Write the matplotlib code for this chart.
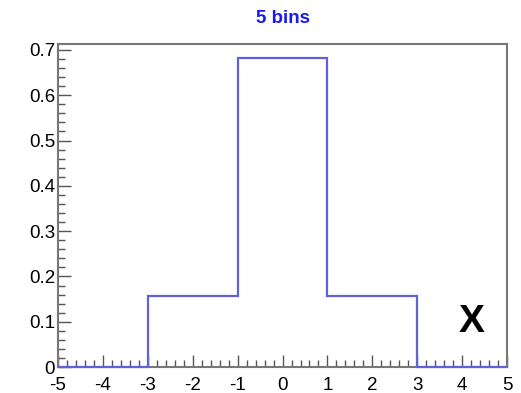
import numpy as np
import matplotlib.pyplot as plt
from matplotlib.ticker import MultipleLocator

plt.rcParams['font.family'] = ['Liberation Sans', 'DejaVu Sans']
plt.rcParams['axes.unicode_minus'] = False

bin_edges = [-5, -3, -1, 1, 3, 5]
bin_contents = [0.0, 0.157, 0.683, 0.157, 0.0]

fig = plt.figure(figsize=(5.21, 3.93), dpi=100)
ax = fig.add_axes([0.1113, 0.066, 0.862, 0.822])

ax.stairs(bin_contents, bin_edges, color="#6262d6", linewidth=1.6,
          zorder=5, clip_on=False)

ax.set_xlim(-5, 5)
ax.set_ylim(0, 0.713)
ax.xaxis.set_major_locator(MultipleLocator(1))
ax.xaxis.set_minor_locator(MultipleLocator(0.2))
ax.yaxis.set_minor_locator(MultipleLocator(0.02))
ax.set_yticks(np.arange(0, 0.71, 0.1))
ax.set_yticklabels(["0", "0.1", "0.2", "0.3", "0.4", "0.5", "0.6", "0.7"])

ax.tick_params(which="both", direction="in", top=False, right=False,
               color="#555555", labelsize=13.5)
ax.tick_params(axis="x", pad=7)
ax.tick_params(axis="y", pad=2)
ax.tick_params(which="major", length=9, width=1)
ax.tick_params(which="minor", length=5, width=1)
for s in ax.spines.values():
    s.set_color("#777777")
    s.set_linewidth(1.5)

ax.set_title("5 bins", color="#1a1aee", fontsize=13.5, fontweight="bold", pad=15)
ax.text(4.2, 0.1, "X", fontsize=28, fontweight="bold", ha="center", va="center")

fig.savefig("out.png", dpi=100)
